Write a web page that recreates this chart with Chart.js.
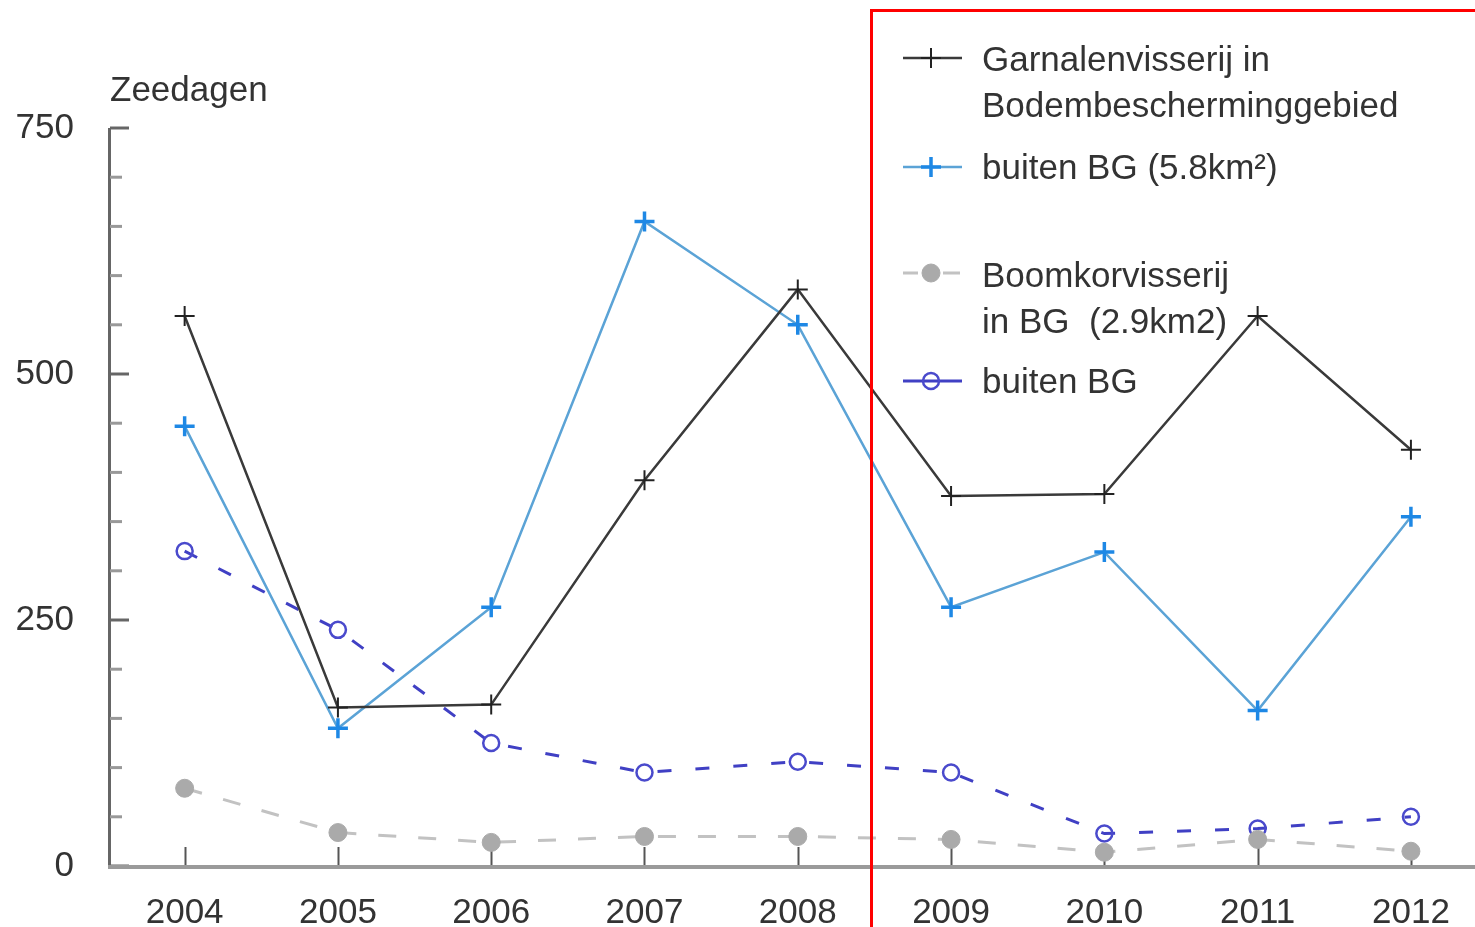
<!DOCTYPE html>
<html>
<head>
<meta charset="utf-8">
<script src="https://cdn.jsdelivr.net/npm/chart.js@4.4.0/dist/chart.umd.min.js"></script>
<style>
html, body { margin: 0; padding: 0; background: #fff; overflow: hidden; }
</style>
</head>
<body>
<canvas id="graph" width="1475" height="927"></canvas>
<script>
// jaren en zeedagen per reeks
var jaren = [2004, 2005, 2006, 2007, 2008, 2009, 2010, 2011, 2012];
var garnalenInBG = [559, 161, 164, 392, 586, 376, 378, 559, 423];
var garnalenBuitenBG = [447, 140, 263, 655, 550, 263, 319, 158, 355];
var boomkorInBG = [79, 34, 24, 30, 30, 27, 14, 27, 15];
var boomkorBuitenBG = [320, 240, 125, 95, 106, 95, 33, 38, 50];
var yTicks = [0, 250, 500, 750];

// legendetekst, een regel per element
var legendeTekst = [
    ['Garnalenvisserij in', 'Bodembescherminggebied'],
    ['buiten BG (5.8km²)'],
    ['Boomkorvisserij', 'in BG  (2.9km2)'],
    ['buiten BG']
];

var lettertype = '35px "Liberation Sans", Arial, sans-serif';
var tekstKleur = '#333';

var punten = function(waarden) {
    return jaren.map(function(j, i) { return { x: j, y: waarden[i] }; });
};

// assen, streepjes, legende en rood kader tekenen
var figuurPlugin = {
    id: 'figuur',
    beforeDatasetsDraw: function(chart) {
        var ctx = chart.ctx;
        var xs = chart.scales.x;
        var ys = chart.scales.y;
        var ca = chart.chartArea;
        ctx.save();
        // y-as
        ctx.strokeStyle = '#666';
        ctx.lineWidth = 3;
        ctx.beginPath();
        ctx.moveTo(ca.left + 1.5, ys.getPixelForValue(750));
        ctx.lineTo(ca.left + 1.5, ca.bottom + 2);
        ctx.stroke();
        for (var v = 0; v <= 750; v += 50) {
            var py = ys.getPixelForValue(v);
            var groot = yTicks.indexOf(v) >= 0;
            ctx.strokeStyle = groot ? '#666' : '#999';
            ctx.beginPath();
            ctx.moveTo(ca.left + 2, py);
            ctx.lineTo(ca.left + (groot ? 21 : 14), py);
            ctx.stroke();
        }
        // x-as streepjes
        ctx.strokeStyle = '#555';
        ctx.lineWidth = 2;
        jaren.forEach(function(j) {
            var px = Math.round(xs.getPixelForValue(j)) + 0.5;
            ctx.beginPath();
            ctx.moveTo(px, ca.bottom - 19);
            ctx.lineTo(px, ca.bottom);
            ctx.stroke();
        });
        // x-as
        ctx.strokeStyle = '#9a9a9a';
        ctx.lineWidth = 4;
        ctx.beginPath();
        ctx.moveTo(ca.left, ca.bottom + 1);
        ctx.lineTo(chart.width, ca.bottom + 1);
        ctx.stroke();
        // as-titel
        ctx.fillStyle = tekstKleur;
        ctx.font = lettertype;
        ctx.textAlign = 'left';
        ctx.textBaseline = 'middle';
        ctx.fillText('Zeedagen', 110, 91);
        ctx.restore();
    },
    afterDraw: function(chart) {
        var ctx = chart.ctx;
        var ds = chart.data.datasets;
        ctx.save();
        // legende
        var ry = [58, 167, 273, 381];
        var ty = [[61, 107], [169], [277, 323], [383]];
        ds.forEach(function(d, i) {
            var y = ry[i];
            ctx.strokeStyle = d.borderColor;
            ctx.lineWidth = d.borderWidth;
            ctx.beginPath();
            if (i === 2) {
                ctx.moveTo(903, y); ctx.lineTo(918, y);
                ctx.moveTo(943, y); ctx.lineTo(960, y);
            } else {
                ctx.moveTo(903, y); ctx.lineTo(962, y);
            }
            ctx.stroke();
            ctx.fillStyle = d.pointBackgroundColor;
            ctx.strokeStyle = d.pointBorderColor;
            ctx.lineWidth = d.pointBorderWidth;
            ctx.beginPath();
            if (d.pointStyle === 'circle') {
                ctx.arc(931, y, d.pointRadius, 0, Math.PI * 2);
                ctx.fill();
                ctx.stroke();
            } else {
                ctx.moveTo(931 - d.pointRadius, y); ctx.lineTo(931 + d.pointRadius, y);
                ctx.moveTo(931, y - d.pointRadius); ctx.lineTo(931, y + d.pointRadius);
                ctx.stroke();
            }
            ctx.fillStyle = tekstKleur;
            ctx.font = lettertype;
            ctx.textAlign = 'left';
            ctx.textBaseline = 'middle';
            legendeTekst[i].forEach(function(regel, k) {
                ctx.fillText(regel, 982, ty[i][k]);
            });
        });
        // rood kader
        ctx.strokeStyle = '#ff0000';
        ctx.lineWidth = 3;
        ctx.strokeRect(871.5, 10.5, 800, 1000);
        ctx.restore();
    }
};

var config = {
    type: 'line',
    data: {
        datasets: [{
            label: legendeTekst[0].join(' '),
            data: punten(garnalenInBG),
            borderColor: '#3a3a3a',
            borderWidth: 2.5,
            pointStyle: 'cross',
            pointRadius: 10,
            pointBorderColor: '#222',
            pointBackgroundColor: '#222',
            pointBorderWidth: 2
        }, {
            label: legendeTekst[1].join(' '),
            data: punten(garnalenBuitenBG),
            borderColor: '#5ba3d6',
            borderWidth: 2.5,
            pointStyle: 'cross',
            pointRadius: 10,
            pointBorderColor: '#1e88e5',
            pointBackgroundColor: '#1e88e5',
            pointBorderWidth: 3.5
        }, {
            label: legendeTekst[2].join(' '),
            data: punten(boomkorInBG),
            borderColor: '#c2c2c2',
            borderWidth: 3,
            borderDash: [18, 22],
            pointStyle: 'circle',
            pointRadius: 9,
            pointBorderColor: '#aaa',
            pointBackgroundColor: '#aaa',
            pointBorderWidth: 1
        }, {
            label: legendeTekst[3].join(' '),
            data: punten(boomkorBuitenBG),
            borderColor: '#4040c4',
            borderWidth: 3,
            borderDash: [14, 24],
            pointStyle: 'circle',
            pointRadius: 8,
            pointBorderColor: '#4a4acc',
            pointBackgroundColor: 'rgba(255,255,255,0)',
            pointBorderWidth: 2.5
        }]
    },
    options: {
        responsive: false,
        animation: false,
        layout: { padding: { top: 128, left: 0, right: 0, bottom: 0 } },
        elements: { line: { tension: 0, fill: false } },
        plugins: { legend: { display: false }, tooltip: { enabled: false } },
        scales: {
            x: {
                type: 'linear',
                min: 2003.5,
                max: 2012.33,
                afterBuildTicks: function(s) { s.ticks = jaren.map(function(j) { return { value: j }; }); },
                afterFit: function(s) { s.height = 61; },
                grid: { display: false },
                border: { display: false },
                ticks: {
                    padding: 18,
                    color: tekstKleur,
                    font: { family: '"Liberation Sans", Arial, sans-serif', size: 35 },
                    maxRotation: 0,
                    callback: function(v) { return String(v); }
                }
            },
            y: {
                min: 0,
                max: 750,
                afterFit: function(s) { s.width = 108; },
                grid: { display: false },
                border: { display: false },
                ticks: {
                    stepSize: 50,
                    padding: 26,
                    color: tekstKleur,
                    font: { family: '"Liberation Sans", Arial, sans-serif', size: 35 },
                    callback: function(v) { return yTicks.indexOf(v) >= 0 ? String(v) : ''; }
                }
            }
        }
    },
    plugins: [figuurPlugin]
};

var ctx = document.getElementById('graph').getContext('2d');
window.myChart = new Chart(ctx, config);
</script>
</body>
</html>
